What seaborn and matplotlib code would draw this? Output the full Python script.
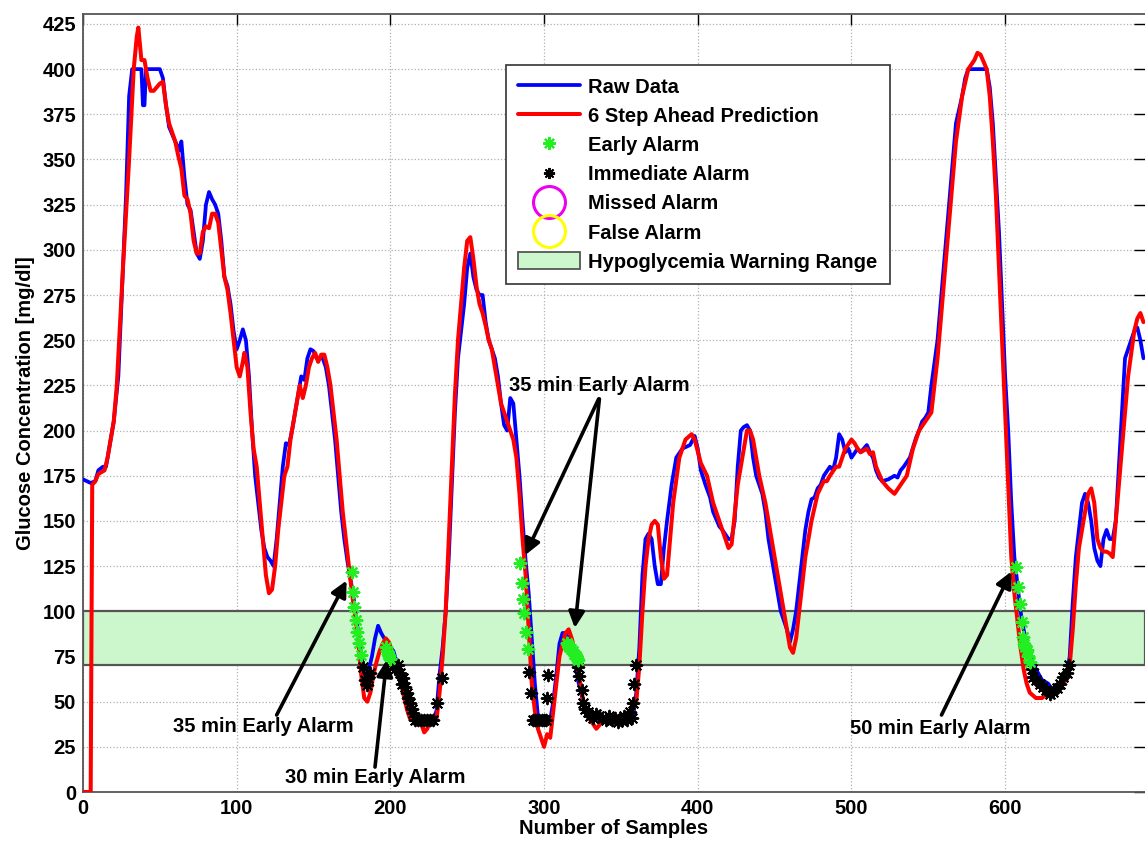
import numpy as np
import pandas as pd
import matplotlib
matplotlib.use("Agg")
import matplotlib.pyplot as plt
import seaborn as sns
from matplotlib.lines import Line2D
from matplotlib.patches import Patch

# ---------------- data ----------------
raw_x = [0, 5, 8, 10, 13, 15, 18, 20, 23, 25, 28, 30, 32, 38, 39, 40, 41, 50, 52, 54, 56, 60, 63, 64, 66, 68,
         70, 72, 74, 76, 78, 80, 82, 84, 86, 88, 90, 92, 94, 96, 98, 100, 102, 104, 106, 108, 110, 112, 114,
         116, 118, 120, 122, 124, 126, 128, 130, 132, 134, 136, 138, 140, 142, 144, 146, 148, 150, 152, 154,
         156, 158, 160, 162, 164, 166, 168, 170, 172, 174, 176, 178, 180, 182, 184, 186, 188, 190, 192, 194,
         196, 198, 200, 202, 204, 206, 208, 210, 212, 214, 216, 228, 230, 232, 234, 236, 238, 240, 242, 244,
         246, 248, 250, 252, 254, 256, 258, 260, 262, 264, 266, 268, 270, 272, 274, 276, 278, 280, 282, 284,
         286, 288, 290, 292, 294, 296, 298, 304, 306, 308, 310, 312, 314, 316, 318, 320, 322, 324, 326, 330,
         335, 340, 345, 350, 355, 358, 360, 362, 364, 366, 368, 370, 372, 374, 376, 378, 380, 383, 386, 390,
         395, 398, 400, 402, 405, 408, 410, 414, 416, 420, 422, 424, 426, 428, 430, 432, 434, 436, 438, 440,
         442, 444, 446, 450, 454, 458, 460, 462, 464, 466, 468, 470, 472, 474, 476, 478, 480, 482, 486, 488,
         490, 492, 494, 496, 498, 500, 504, 506, 510, 512, 514, 516, 518, 520, 524, 528, 530, 532, 534, 538,
         542, 544, 546, 548, 550, 552, 556, 560, 564, 568, 572, 574, 576, 588, 590, 592, 594, 596, 598, 600,
         602, 604, 606, 608, 610, 612, 614, 616, 618, 620, 624, 628, 632, 634, 638, 640, 642, 644, 646, 648,
         650, 652, 654, 656, 658, 660, 662, 664, 666, 668, 670, 672, 674, 676, 678, 680, 682, 684, 686, 688,
         690]
raw_y = [173, 171, 172, 178, 180, 180, 195, 205, 230, 270, 330, 385, 400, 400, 380, 380, 400, 400, 395, 380,
         368, 360, 355, 360, 340, 325, 322, 310, 298, 295, 305, 325, 332, 328, 325, 320, 305, 285, 280, 270,
         255, 245, 250, 256, 250, 230, 200, 175, 160, 145, 135, 130, 128, 125, 140, 160, 180, 193, 192, 200,
         210, 220, 230, 228, 240, 245, 244, 240, 240, 240, 235, 225, 210, 195, 175, 155, 140, 128, 118, 108,
         95, 82, 70, 62, 68, 75, 85, 92, 88, 85, 82, 80, 78, 72, 68, 62, 55, 48, 42, 40, 40, 45, 65, 80, 100,
         130, 170, 210, 240, 255, 270, 290, 298, 285, 278, 275, 275, 260, 250, 245, 240, 230, 215, 203, 200,
         218, 215, 195, 175, 150, 128, 110, 85, 60, 42, 40, 40, 50, 65, 82, 88, 88, 85, 80, 72, 62, 55, 48,
         42, 42, 40, 40, 42, 40, 42, 55, 80, 120, 140, 143, 140, 125, 115, 115, 135, 150, 170, 185, 190, 192,
         197, 190, 178, 170, 163, 155, 147, 145, 140, 140, 150, 180, 200, 202, 203, 200, 185, 175, 170, 165,
         155, 140, 120, 100, 90, 83, 90, 100, 115, 130, 145, 155, 162, 163, 168, 170, 175, 180, 178, 185, 198,
         195, 188, 190, 185, 190, 188, 192, 188, 185, 178, 174, 172, 173, 175, 174, 178, 180, 185, 196, 200,
         205, 207, 210, 225, 250, 290, 330, 370, 385, 395, 400, 400, 390, 370, 340, 310, 270, 230, 200, 160,
         130, 115, 100, 90, 82, 75, 72, 68, 62, 60, 55, 58, 60, 65, 75, 105, 130, 145, 160, 165, 160, 150, 135,
         128, 125, 140, 145, 140, 140, 150, 180, 210, 240, 245, 250, 255, 257, 250, 240]

pred_x = [0, 5, 6, 8, 10, 14, 16, 18, 20, 22, 26, 30, 33, 35, 36, 38, 40, 42, 44, 46, 50, 52, 54, 56, 60, 62,
          64, 66, 68, 70, 72, 74, 76, 78, 80, 82, 84, 86, 88, 90, 92, 94, 96, 98, 100, 102, 104, 105, 107, 109,
          111, 113, 115, 117, 119, 121, 123, 125, 127, 129, 131, 133, 135, 137, 139, 141, 143, 145, 147, 149,
          151, 153, 155, 157, 159, 161, 163, 165, 167, 169, 171, 173, 175, 177, 179, 181, 183, 185, 187, 189,
          191, 193, 195, 197, 199, 201, 203, 205, 207, 209, 211, 213, 217, 220, 222, 224, 226, 230, 232, 234,
          236, 238, 240, 242, 244, 246, 248, 250, 252, 254, 256, 258, 260, 262, 264, 266, 268, 270, 272, 274,
          276, 278, 280, 282, 284, 286, 288, 290, 292, 294, 296, 298, 300, 302, 304, 306, 308, 310, 312, 314,
          316, 318, 320, 322, 324, 326, 328, 330, 334, 336, 338, 342, 350, 356, 360, 362, 364, 366, 368, 370,
          372, 374, 376, 378, 380, 384, 388, 392, 396, 398, 402, 406, 410, 414, 418, 420, 422, 426, 430, 432,
          434, 436, 440, 444, 448, 452, 456, 460, 462, 464, 466, 470, 474, 478, 482, 484, 486, 490, 492, 496,
          500, 502, 504, 506, 510, 512, 514, 516, 520, 524, 528, 532, 536, 540, 544, 548, 552, 556, 560, 564,
          568, 572, 576, 580, 582, 584, 588, 590, 592, 594, 596, 598, 600, 602, 604, 606, 608, 610, 612, 614,
          616, 620, 624, 628, 632, 636, 640, 642, 644, 646, 648, 650, 652, 654, 656, 658, 660, 662, 664, 666,
          668, 670, 672, 676, 680, 684, 686, 688, 690]
pred_y = [0, 0, 170, 172, 176, 178, 185, 195, 205, 225, 290, 350, 400, 418, 423, 405, 405, 395, 388, 388, 392,
          393, 380, 370, 360, 352, 345, 330, 328, 320, 305, 298, 298, 310, 313, 312, 320, 320, 315, 300, 285,
          278, 265, 250, 235, 230, 238, 243, 235, 210, 190, 180, 160, 140, 120, 110, 112, 125, 145, 160, 175,
          180, 195, 205, 215, 225, 218, 225, 235, 240, 243, 238, 242, 242, 235, 225, 210, 195, 175, 155, 140,
          125, 110, 98, 85, 65, 52, 50, 55, 65, 72, 78, 82, 85, 83, 78, 72, 65, 60, 52, 45, 40, 40, 38, 33, 35,
          40, 40, 55, 75, 100, 140, 180, 220, 250, 270, 290, 305, 307, 295, 280, 270, 265, 258, 250, 245, 235,
          225, 215, 210, 205, 200, 195, 185, 165, 140, 120, 90, 60, 45, 35, 30, 25, 32, 30, 45, 60, 75, 82, 88,
          90, 85, 78, 68, 58, 48, 42, 40, 35, 37, 40, 42, 42, 42, 50, 70, 100, 125, 140, 148, 150, 148, 130,
          118, 120, 160, 185, 195, 198, 195, 182, 175, 160, 150, 140, 135, 137, 170, 190, 200, 200, 195, 175,
          160, 140, 120, 100, 80, 77, 85, 100, 130, 150, 165, 172, 172, 175, 180, 180, 190, 195, 193, 190, 188,
          190, 187, 188, 180, 172, 168, 165, 170, 175, 190, 200, 205, 210, 240, 280, 320, 360, 385, 400, 405,
          409, 408, 400, 385, 360, 330, 290, 250, 210, 170, 130, 110, 95, 80, 68, 60, 55, 52, 52, 55, 57, 60,
          62, 70, 90, 115, 135, 145, 155, 165, 168, 160, 140, 135, 133, 133, 132, 130, 150, 190, 230, 255, 262,
          265, 260]

early_x = [174.8, 175.9, 176.6, 177.6, 178.5, 179.6, 180.9, 197.0, 197.8, 198.4, 199.2, 200.0,
           284.3, 285.4, 286.0, 286.9, 288.2, 289.7,
           314.7, 315.5, 316.5, 317.5, 318.5, 319.5, 320.5, 321.5, 322.3,
           607.0, 608.5, 609.6, 610.7, 611.8, 612.5, 613.2, 614.0, 615.0, 616.1]
early_y = [121.8, 110.7, 102.5, 95.0, 88.7, 82.4, 75.8, 80.0, 78.0, 76.5, 75.5, 73.5,
           126.9, 115.4, 107.0, 98.9, 88.7, 79.4,
           82.4, 81.5, 80.0, 79.0, 78.0, 76.5, 75.5, 74.0, 73.0,
           124.7, 113.6, 104.3, 94.2, 85.9, 82.0, 80.0, 78.6, 75.0, 72.1]

immediate_x = [182.0, 183.5, 184.6, 185.6, 186.7, 201.5, 203.0, 205.0, 206.0, 207.5, 208.5, 209.5, 210.6,
               211.5, 212.7, 213.8, 214.8, 216.0, 218.0, 220.0, 222.0, 224.0, 226.0, 228.0, 230.5, 233.3,
               290.4, 291.3, 292.5, 294.0, 295.5, 297.0, 298.5, 300.0, 301.5, 302.0, 302.8,
               322.3, 323.0, 324.4, 325.5, 326.5, 328.5, 330.0, 332.0, 334.0, 336.0, 338.0, 340.0, 342.0,
               344.0, 346.0, 348.0, 350.0, 352.0, 354.0, 356.0, 357.0, 358.0, 358.5, 359.5,
               617.2, 618.3, 620.4, 622.6, 624.8, 626.9, 629.1, 631.3, 633.5, 635.6, 637.8, 640.0, 641.7]
immediate_y = [69.0, 62.0, 59.0, 63.0, 66.0, 70.0, 68.0, 70.0, 66.0, 60.0, 63.0, 58.0, 55.0,
               52.0, 49.0, 46.0, 43.6, 40.0, 40.0, 40.0, 40.0, 40.0, 40.0, 40.0, 49.0, 63.0,
               66.6, 54.6, 40.0, 40.0, 40.0, 40.0, 40.0, 40.0, 40.0, 51.8, 64.7,
               69.4, 64.0, 56.5, 49.0, 46.0, 44.0, 42.0, 41.0, 43.0, 42.0, 41.0, 40.0, 42.0,
               40.0, 41.0, 39.0, 40.0, 42.0, 40.0, 44.0, 41.0, 49.0, 60.0, 70.0,
               68.3, 63.7, 62.0, 60.0, 58.0, 56.4, 54.5, 55.4, 57.3, 60.0, 63.8, 65.6, 70.3]

hypo_low, hypo_high = 70, 100

annotations = [
    # text, text position (sample, mg/dl), arrow tail, arrow head (sample, mg/dl)
    ("35 min Early Alarm", (117, 36), (126, 42.6), (171.5, 117)),
    ("30 min Early Alarm", (190, 8.3), (190, 13.8), (197.6, 73)),
    ("35 min Early Alarm", (335.7, 224.7), (335.5, 217.5), (287.6, 131)),
    ("50 min Early Alarm", (558, 35.4), (558.6, 42.6), (604, 122)),
]
extra_arrow = ((336, 217.5), (320, 90.8))

xticks = [0, 100, 200, 300, 400, 500, 600]
yticks = list(range(0, 426, 25))

# ---------------- figure ----------------
sns.set_theme(style="white")
plt.rcParams['font.family'] = ['Liberation Sans', 'DejaVu Sans']
plt.rcParams['font.weight'] = 'bold'
plt.rcParams['text.color'] = 'black'
plt.rcParams['axes.labelcolor'] = 'black'
plt.rcParams['xtick.color'] = 'black'
plt.rcParams['ytick.color'] = 'black'

FS = 14.5

fig = plt.figure(figsize=(11.45, 8.48), dpi=100)
ax = fig.add_axes([83 / 1145, 56 / 848, 1 - 83 / 1145, (792 - 14) / 848])

ax.axhspan(hypo_low, hypo_high, facecolor='#ccf7cc', edgecolor='#555555', linewidth=1.6, zorder=1)

raw_df = pd.DataFrame({"sample": raw_x, "glucose": raw_y})
pred_df = pd.DataFrame({"sample": pred_x, "glucose": pred_y})
sns.lineplot(data=raw_df, x="sample", y="glucose", color='#0000ff', linewidth=2.7, sort=False,
             estimator=None, ax=ax, zorder=3)
sns.lineplot(data=pred_df, x="sample", y="glucose", color='#ff0000', linewidth=2.9, sort=False,
             estimator=None, ax=ax, zorder=4)

ast = (8, 2, 0)
sns.scatterplot(x=immediate_x, y=immediate_y, marker=ast, color='black', edgecolor='black',
                s=70, linewidth=1.4, ax=ax, zorder=5)
sns.scatterplot(x=early_x, y=early_y, marker=ast, color='#22ee22', edgecolor='#22ee22',
                s=70, linewidth=1.6, ax=ax, zorder=6)

arrowprops = dict(arrowstyle='-|>', color='black', lw=2.6, mutation_scale=24, shrinkA=0, shrinkB=0)
for text, tpos, tail, head in annotations:
    ax.text(tpos[0], tpos[1], text, ha='center', va='center', fontsize=FS, fontweight='bold',
            color='black', zorder=8)
    ax.annotate("", xy=head, xytext=tail, arrowprops=arrowprops, zorder=7)
ax.annotate("", xy=extra_arrow[1], xytext=extra_arrow[0], arrowprops=arrowprops, zorder=7)

ax.set_xlim(0, 691)
ax.set_ylim(0, 430.5)
ax.set_xticks(xticks)
ax.set_yticks(yticks)
ax.set_xticklabels([str(t) for t in xticks], fontsize=FS, fontweight='bold')
ax.set_yticklabels([str(t) for t in yticks], fontsize=FS, fontweight='bold')
ax.tick_params(direction='in', length=8, width=1, top=True, right=True, colors='black', pad=5)
ax.grid(True, linestyle=':', color='#b0b0b0', linewidth=0.9)
for name, sp in ax.spines.items():
    sp.set_color('#555555')
    sp.set_linewidth(1.3)
ax.spines['right'].set_visible(False)

ax.set_xlabel("Number of Samples", fontsize=FS, fontweight='bold', labelpad=1, color='black')
ax.set_ylabel("Glucose Concentration [mg/dl]", fontsize=FS, fontweight='bold', labelpad=5, color='black')

handles = [
    Line2D([], [], color='#0000ff', lw=2.7),
    Line2D([], [], color='#ff0000', lw=2.9),
    Line2D([], [], color='#22ee22', marker=ast, linestyle='None', markersize=9, markeredgewidth=1.6),
    Line2D([], [], color='black', marker=ast, linestyle='None', markersize=8, markeredgewidth=1.4),
    Line2D([], [], color='#ee00ee', marker='o', markerfacecolor='none', linestyle='None', markersize=23,
           markeredgewidth=2.2),
    Line2D([], [], color='#ffff00', marker='o', markerfacecolor='none', linestyle='None', markersize=23,
           markeredgewidth=2.2),
    Patch(facecolor='#ccf7cc', edgecolor='#555555', linewidth=1.3),
]
labels = ["Raw Data", "6 Step Ahead Prediction", "Early Alarm", "Immediate Alarm", "Missed Alarm",
          "False Alarm", "Hypoglycemia Warning Range"]
leg = ax.legend(handles, labels, loc='upper left', bbox_to_anchor=(0.398, 0.934),
                prop={'weight': 'bold', 'size': FS}, frameon=True, fancybox=False, framealpha=1,
                edgecolor='#333333', handlelength=3.1, handleheight=0.9, labelspacing=0.49,
                handletextpad=0.4, borderpad=0.6, borderaxespad=0)
leg.get_frame().set_linewidth(1.2)
for t in leg.get_texts():
    t.set_color('black')
leg.set_zorder(10)

fig.savefig("out.png", dpi=100)
